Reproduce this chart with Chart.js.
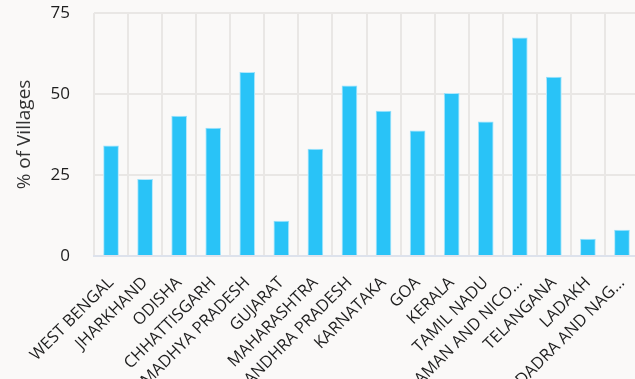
<!DOCTYPE html>
<html>
<head>
<meta charset="utf-8">
<script src="https://cdn.jsdelivr.net/npm/chart.js@4"></script>
<style>
  html, body { margin: 0; padding: 0; background: #faf9f8; overflow: hidden; }
  #wrap { position: absolute; left: 0; top: 0; }
</style>
</head>
<body>
<div id="wrap"><canvas id="villageChart" width="639" height="440"></canvas></div>
<script>
const states = [
  "WEST BENGAL", "JHARKHAND", "ODISHA", "CHHATTISGARH", "MADHYA PRADESH",
  "GUJARAT", "MAHARASHTRA", "ANDHRA PRADESH", "KARNATAKA", "GOA", "KERALA",
  "TAMIL NADU", "ANDAMAN AND NICO\u2026", "TELANGANA", "LADAKH", "DADRA AND NAG\u2026"
];
const villagePct = [34, 23.7, 43.2, 39.5, 56.7, 10.8, 33, 52.5, 44.7, 38.6, 50.2, 41.4, 67.3, 55.2, 5.2, 8];
const yTicks = [0, 25, 50, 75];

// soft white glow around the bars
const barGlow = {
  id: "barGlow",
  beforeDatasetsDraw(chart) {
    const ctx = chart.ctx;
    ctx.save();
    ctx.shadowColor = "rgba(255,255,255,1)";
    ctx.shadowBlur = 6;
  },
  afterDatasetsDraw(chart) {
    chart.ctx.restore();
  }
};

new Chart(document.getElementById("villageChart"), {
  type: "bar",
  data: {
    labels: states,
    datasets: [
      {
        label: "% of Villages",
        data: villagePct,
        backgroundColor: "#29c3f7",
        borderColor: "#7fd8f9",
        borderWidth: 1,
        barThickness: 15
      }
    ]
  },
  plugins: [barGlow],
  options: {
    responsive: false,
    animation: false,
    layout: { padding: 0 },
    plugins: {
      legend: { display: false },
      tooltip: { enabled: false }
    },
    scales: {
      x: {
        // fixed band for the rotated labels, plot runs to the right edge
        afterFit(scale) {
          scale.height = 184;
          scale.paddingLeft = 0;
          scale.paddingRight = 0;
        },
        grid: { color: "#e9e7e5", lineWidth: 2, drawTicks: false },
        border: { color: "#dde2ec", width: 2 },
        ticks: {
          color: "#1e1e1e",
          font: { family: "Open Sans", size: 16.5 },
          minRotation: 45,
          maxRotation: 45,
          padding: 17,
          autoSkip: false
        }
      },
      y: {
        min: 0,
        max: 75,
        afterBuildTicks(scale) {
          scale.ticks = yTicks.map(v => ({ value: v }));
        },
        // fixed axis width, and keep the tick gap from pushing the plot down
        afterFit(scale) {
          scale.width = 94;
          scale.paddingTop = 13;
          scale.paddingBottom = 10;
        },
        grid: { color: "#e9e7e5", lineWidth: 2, drawTicks: false },
        border: { display: false },
        title: {
          display: true,
          text: "% of Villages",
          color: "#333",
          font: { family: "Open Sans", size: 19 },
          padding: { top: 13, bottom: 0 }
        },
        ticks: {
          color: "#1e1e1e",
          font: { family: "Open Sans", size: 17 },
          padding: 24
        }
      }
    }
  }
});
</script>
</body>
</html>
